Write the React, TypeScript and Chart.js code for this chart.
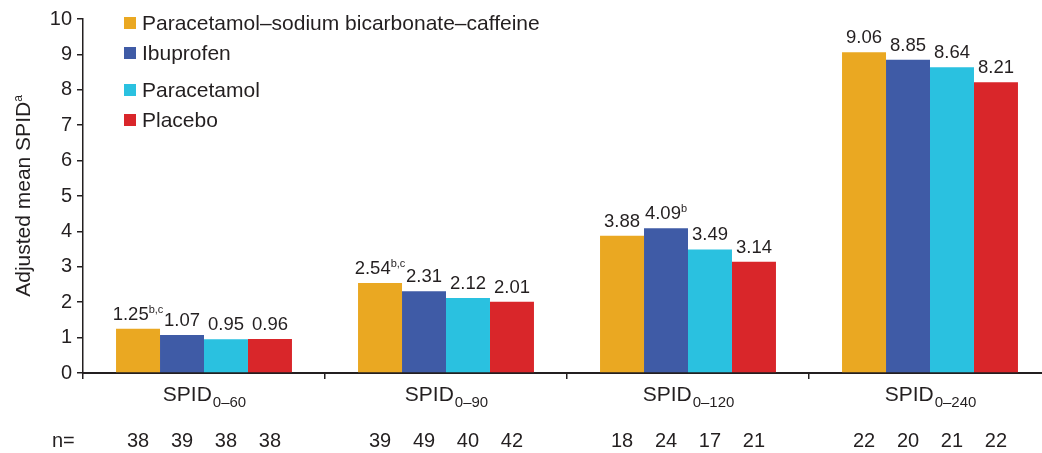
import React, { useEffect, useRef } from "react";
import { Chart, registerables } from "chart.js";

Chart.register(...registerables);

// ---- data ----
const categoryPrefix = "SPID";
const categorySubscripts = ["0–60", "0–90", "0–120", "0–240"];
const seriesNames = [
  "Paracetamol–sodium bicarbonate–caffeine",
  "Ibuprofen",
  "Paracetamol",
  "Placebo",
];
const combinationValues = [1.25, 2.54, 3.88, 9.06];
const ibuprofenValues = [1.07, 2.31, 4.09, 8.85];
const paracetamolValues = [0.95, 2.12, 3.49, 8.64];
const placeboValues = [0.96, 2.01, 3.14, 8.21];

const combinationSup = ["b,c", "b,c", "", ""];
const ibuprofenSup = ["", "", "b", ""];
const paracetamolSup = ["", "", "", ""];
const placeboSup = ["", "", "", ""];

const combinationN = [38, 39, 18, 22];
const ibuprofenN = [39, 49, 24, 20];
const paracetamolN = [38, 40, 17, 21];
const placeboN = [38, 42, 21, 22];

const yMin = 0;
const yMax = 10;
const yStep = 1;
const yTitle = "Adjusted mean SPID";
const yTitleSup = "a";
const nLabel = "n=";

// ---- styles ----
const FONT = '"Liberation Sans", Arial, Helvetica, sans-serif';
const INK = "#231f20";
const colors = ["#EAA822", "#3F5BA6", "#2AC1E0", "#D9262A"];

const seriesValues = [combinationValues, ibuprofenValues, paracetamolValues, placeboValues];
const seriesSup = [combinationSup, ibuprofenSup, paracetamolSup, placeboSup];
const seriesN = [combinationN, ibuprofenN, paracetamolN, placeboN];

const CANVAS_W = 1060;
const CANVAS_H = 453;

const overlayPlugin = {
  id: "overlay",
  afterDatasetsDraw(chart: any) {
    const ctx: CanvasRenderingContext2D = chart.ctx;
    const area = chart.chartArea;
    const xScale = chart.scales.x;
    ctx.save();
    ctx.fillStyle = INK;
    ctx.textBaseline = "alphabetic";

    // value labels with superscripts
    chart.data.datasets.forEach((ds: any, di: number) => {
      const meta = chart.getDatasetMeta(di);
      meta.data.forEach((bar: any, i: number) => {
        const main = (ds.data[i] as number).toFixed(2);
        const sup = seriesSup[di][i];
        ctx.font = `18.5px ${FONT}`;
        const wMain = ctx.measureText(main).width;
        ctx.font = `11px ${FONT}`;
        const wSup = sup ? ctx.measureText(sup).width : 0;
        const total = wMain + wSup;
        const x0 = bar.x - total / 2;
        const base = bar.y - 9;
        ctx.textAlign = "left";
        ctx.font = `18.5px ${FONT}`;
        ctx.fillText(main, x0, base);
        if (sup) {
          ctx.font = `11px ${FONT}`;
          ctx.fillText(sup, x0 + wMain, base - 7);
        }
      });
    });

    // category labels
    categorySubscripts.forEach((sub, i) => {
      const cx = xScale.getPixelForValue(i);
      ctx.font = `21px ${FONT}`;
      const w1 = ctx.measureText(categoryPrefix).width;
      ctx.font = `15px ${FONT}`;
      const w2 = ctx.measureText(sub).width;
      const x0 = cx - (w1 + w2) / 2;
      ctx.textAlign = "left";
      ctx.font = `21px ${FONT}`;
      ctx.fillText(categoryPrefix, x0, 401);
      ctx.font = `15px ${FONT}`;
      ctx.fillText(sub, x0 + w1 + 1, 407);
    });

    // n row
    ctx.font = `20px ${FONT}`;
    ctx.textAlign = "left";
    ctx.fillText(nLabel, 52, 447);
    ctx.textAlign = "center";
    chart.data.datasets.forEach((_ds: any, di: number) => {
      const meta = chart.getDatasetMeta(di);
      meta.data.forEach((bar: any, i: number) => {
        ctx.fillText(String(seriesN[di][i]), bar.x, 447);
      });
    });

    // y title
    ctx.save();
    const cy = (area.top + area.bottom) / 2;
    ctx.translate(30, cy);
    ctx.rotate(-Math.PI / 2);
    ctx.font = `21px ${FONT}`;
    const tw = ctx.measureText(yTitle).width;
    ctx.font = `12px ${FONT}`;
    const sw = ctx.measureText(yTitleSup).width;
    const tx = -(tw + sw) / 2;
    ctx.textAlign = "left";
    ctx.font = `21px ${FONT}`;
    ctx.fillText(yTitle, tx, 0);
    ctx.font = `12px ${FONT}`;
    ctx.fillText(yTitleSup, tx + tw, -8);
    ctx.restore();

    // legend
    const legendRows = [23, 53, 90, 120];
    seriesNames.forEach((name, i) => {
      const y = legendRows[i];
      ctx.fillStyle = colors[i];
      ctx.fillRect(124, y - 6, 12, 12);
      ctx.fillStyle = INK;
      ctx.font = `21px ${FONT}`;
      ctx.textAlign = "left";
      ctx.textBaseline = "middle";
      ctx.fillText(name, 142, y + 1);
    });
    ctx.restore();
  },
};

export default function App() {
  const ref = useRef<HTMLCanvasElement | null>(null);

  useEffect(() => {
    if (!ref.current) return;
    const chart = new Chart(ref.current, {
      type: "bar",
      data: {
        labels: categorySubscripts.map((s) => categoryPrefix + s),
        datasets: seriesNames.map((name, i) => ({
          label: name,
          data: seriesValues[i],
          backgroundColor: colors[i],
          borderWidth: 0,
          barPercentage: 1,
          categoryPercentage: 0.727,
        })),
      },
      options: {
        responsive: false,
        animation: false,
        devicePixelRatio: 1,
        layout: { padding: { top: 19, right: 9, left: 0, bottom: 0 } },
        plugins: {
          legend: { display: false },
          tooltip: { enabled: false },
          title: { display: false },
        },
        scales: {
          x: {
            offset: true,
            ticks: { display: false },
            grid: {
              display: true,
              offset: true,
              drawOnChartArea: false,
              drawTicks: true,
              tickLength: 6,
              color: INK,
              lineWidth: 1.5,
            },
            border: { display: true, color: INK, width: 2 },
            afterFit(scale: any) {
              scale.height = 80;
            },
          },
          y: {
            min: yMin,
            max: yMax,
            ticks: {
              stepSize: yStep,
              color: INK,
              padding: 5,
              font: { family: FONT, size: 20 },
            },
            grid: {
              display: true,
              drawOnChartArea: false,
              drawTicks: true,
              tickLength: 6,
              color: INK,
              lineWidth: 1.5,
            },
            border: { display: true, color: INK, width: 1.5 },
            afterFit(scale: any) {
              scale.width = 83;
            },
          },
        },
      },
      plugins: [overlayPlugin],
    });
    return () => chart.destroy();
  }, []);

  return (
    <div
      style={{
        position: "fixed",
        left: 0,
        top: 0,
        width: 1042,
        height: 453,
        overflow: "hidden",
        background: "#fff",
      }}
    >
      <canvas ref={ref} width={CANVAS_W} height={CANVAS_H} style={{ display: "block" }} />
    </div>
  );
}
